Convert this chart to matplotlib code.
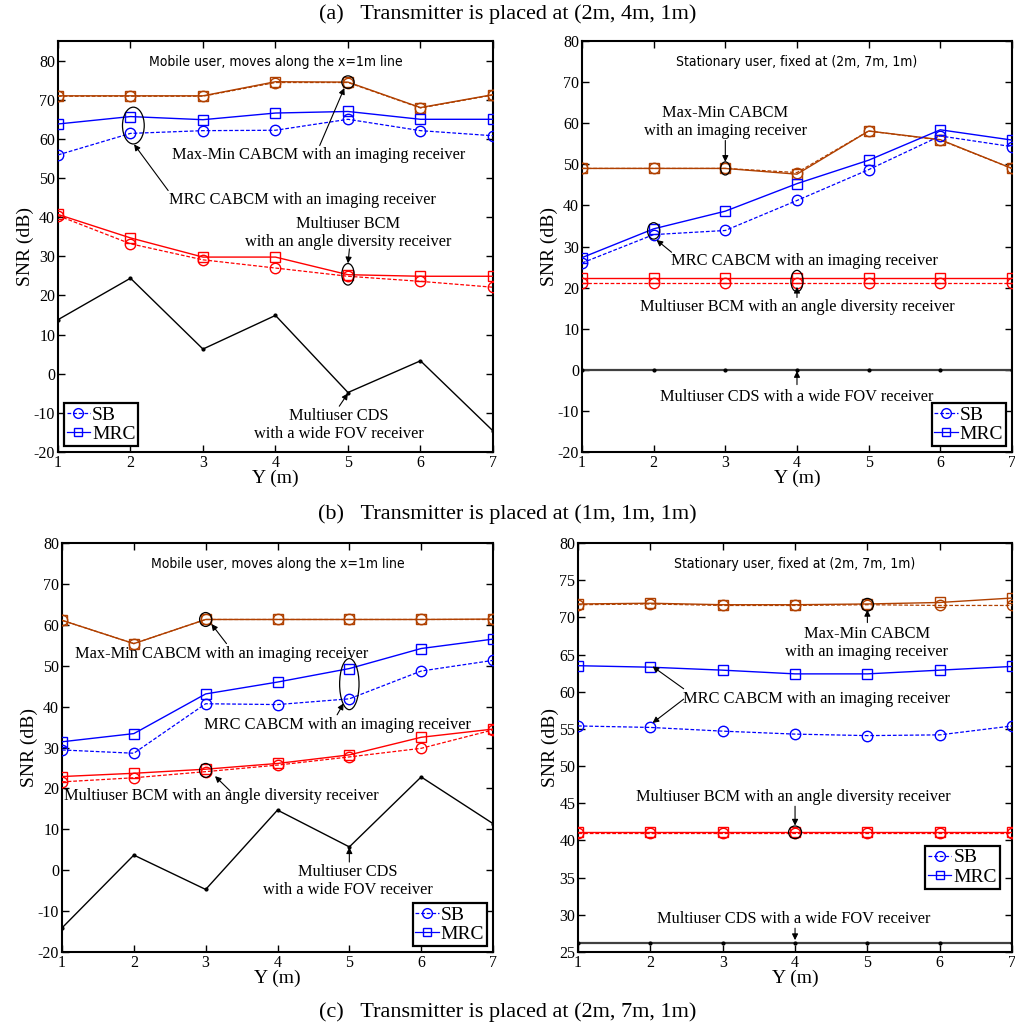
import matplotlib
matplotlib.use("Agg")
import matplotlib.pyplot as plt
from matplotlib.patches import Ellipse
from matplotlib.lines import Line2D

plt.rcParams["font.family"] = ["Liberation Serif", "DejaVu Serif"]
plt.rcParams["axes.unicode_minus"] = False

y_pos = [1, 2, 3, 4, 5, 6, 7]
x_ticks = [1, 2, 3, 4, 5, 6, 7]

# ---- (a) transmitter at (2m, 4m, 1m) ----
a_mob_maxmin_sb = [70.9, 70.9, 70.9, 74.4, 74.4, 67.9, 71.2]
a_mob_maxmin_mrc = [71.0, 71.0, 71.0, 74.6, 74.5, 68.0, 71.3]
a_mob_cabcm_sb = [55.9, 61.4, 62.1, 62.2, 65.0, 62.1, 60.8]
a_mob_cabcm_mrc = [63.8, 65.7, 64.9, 66.6, 67.0, 65.0, 65.0]
a_mob_bcm_sb = [40.4, 33.2, 29.1, 27.0, 24.9, 23.6, 22.1]
a_mob_bcm_mrc = [40.7, 34.7, 29.8, 29.8, 25.3, 24.9, 24.9]
a_mob_cds = [13.8, 24.4, 6.3, 14.9, -4.8, 3.3, -14.6]

a_sta_maxmin_sb = [49.0, 49.0, 49.0, 48.0, 58.1, 55.9, 49.0]
a_sta_maxmin_mrc = [49.0, 49.0, 49.0, 47.6, 58.1, 56.0, 49.0]
a_sta_cabcm_sb = [26.0, 32.9, 33.9, 41.2, 48.7, 56.9, 54.3]
a_sta_cabcm_mrc = [27.3, 34.3, 38.6, 45.3, 51.0, 58.4, 55.9]
a_sta_bcm_sb = [21.1, 21.1, 21.1, 21.1, 21.1, 21.1, 21.1]
a_sta_bcm_mrc = [22.3, 22.3, 22.3, 22.3, 22.3, 22.3, 22.3]
a_sta_cds = [0.0, 0.0, 0.0, 0.0, 0.0, 0.0, 0.0]

# ---- (b) transmitter at (1m, 1m, 1m) ----
b_mob_maxmin_sb = [61.1, 55.4, 61.3, 61.3, 61.3, 61.3, 61.3]
b_mob_maxmin_mrc = [61.1, 55.4, 61.3, 61.3, 61.3, 61.3, 61.4]
b_mob_cabcm_sb = [29.4, 28.6, 40.7, 40.5, 41.9, 48.7, 51.3]
b_mob_cabcm_mrc = [31.4, 33.4, 43.1, 46.0, 49.3, 54.2, 56.5]
b_mob_bcm_sb = [21.6, 22.6, 24.1, 25.7, 27.7, 29.8, 34.3]
b_mob_bcm_mrc = [22.9, 23.7, 24.7, 26.1, 28.2, 32.5, 34.5]
b_mob_cds = [-14.1, 3.7, -4.7, 14.7, 5.7, 22.8, 11.4]

b_sta_maxmin_sb = [71.7, 71.8, 71.6, 71.6, 71.7, 71.6, 71.6]
b_sta_maxmin_mrc = [71.8, 71.9, 71.7, 71.7, 71.8, 72.0, 72.6]
b_sta_cabcm_sb = [55.4, 55.2, 54.7, 54.3, 54.1, 54.2, 55.4]
b_sta_cabcm_mrc = [63.5, 63.3, 62.9, 62.4, 62.4, 62.9, 63.4]
b_sta_bcm_sb = [41.0, 41.0, 41.0, 41.0, 41.0, 41.0, 41.0]
b_sta_bcm_mrc = [41.2, 41.2, 41.2, 41.2, 41.2, 41.2, 41.2]
b_sta_cds = [26.25, 26.25, 26.25, 26.25, 26.25, 26.25, 26.25]

BROWN = "#b04000"
BLUE = "#0000ff"
RED = "#ff0000"

TICK_FS = 11.5
LAB_FS = 14
ANN_FS = 11.8
LEG_FS = 14
TITLE_FS = 16
INNER_FS = 10


def pair(ax, sb, mrc, color):
    ax.plot(y_pos, sb, color=color, ls=(0, (3, 1.5)), lw=0.9, marker="o",
            ms=7.5, mfc="none", mec=color, mew=1.0, zorder=3)
    ax.plot(y_pos, mrc, color=color, ls="-", lw=1.0, marker="s",
            ms=6.5, mfc="none", mec=color, mew=1.0, zorder=3)


def cds(ax, vals, lw=1.0, color="black"):
    ax.plot(y_pos, vals, color=color, lw=lw, marker=".", ms=4,
            mfc="black", mec="black", zorder=3)


def style(ax, ylim, yticks, inner):
    ax.set_xlim(1, 7)
    ax.set_ylim(*ylim)
    ax.set_xticks(x_ticks)
    ax.set_yticks(yticks)
    ax.tick_params(direction="in", length=5, width=1.0, top=True, right=True,
                   labelsize=TICK_FS, pad=2)
    for s in ax.spines.values():
        s.set_linewidth(1.5)
    ax.set_xlabel("Y (m)", fontsize=LAB_FS, labelpad=-1)
    ax.set_ylabel("SNR (dB)", fontsize=LAB_FS, labelpad=0)
    ax.text(0.5, 0.965, inner, transform=ax.transAxes, ha="center", va="top",
            fontsize=INNER_FS, family="DejaVu Sans", fontstretch="condensed")


def legend(ax, **kw):
    handles = [
        Line2D([], [], color=BLUE, ls=(0, (3, 1.5)), lw=0.9, marker="o", ms=7,
               mfc="none", mec=BLUE),
        Line2D([], [], color=BLUE, ls="-", lw=0.9, marker="s", ms=6,
               mfc="none", mec=BLUE),
    ]
    lg = ax.legend(handles, ["SB", "MRC"], fontsize=LEG_FS, fancybox=False,
                   framealpha=1, edgecolor="black", handlelength=1.2,
                   handletextpad=0.1, borderpad=0.15, labelspacing=0.1,
                   borderaxespad=0.3, **kw)
    lg.get_frame().set_linewidth(1.6)


def arrow(ax, tail, head):
    ax.annotate("", xy=head, xytext=tail,
                arrowprops=dict(arrowstyle="-|>", color="black", lw=0.8,
                                mutation_scale=9, shrinkA=0, shrinkB=0),
                zorder=5)


def ring(ax, xy, w, h):
    ax.add_patch(Ellipse(xy, w, h, fill=False, ec="black", lw=0.9, zorder=4))


def note(ax, xy, s):
    ax.text(xy[0], xy[1], s, ha="center", va="center", fontsize=ANN_FS,
            linespacing=1.15, zorder=5)


fig = plt.figure(figsize=(10.15, 10.28), dpi=100)
ax1 = fig.add_axes([0.0571, 0.5603, 0.4286, 0.3998])
ax2 = fig.add_axes([0.5734, 0.5603, 0.4236, 0.3998])
ax3 = fig.add_axes([0.0611, 0.0739, 0.4246, 0.3979])
ax4 = fig.add_axes([0.5695, 0.0739, 0.4276, 0.3979])

# (a) mobile user
pair(ax1, a_mob_maxmin_sb, a_mob_maxmin_mrc, BROWN)
pair(ax1, a_mob_cabcm_sb, a_mob_cabcm_mrc, BLUE)
pair(ax1, a_mob_bcm_sb, a_mob_bcm_mrc, RED)
cds(ax1, a_mob_cds)
style(ax1, (-20, 85), range(-20, 81, 10), "Mobile user, moves along the x=1m line")
ring(ax1, (2.04, 63.4), 0.3, 9.4)
ring(ax1, (5, a_mob_maxmin_mrc[4]), 0.17, 3.2)
ring(ax1, (5, 25.4), 0.17, 5.5)
note(ax1, (4.59, 55.9), "Max-Min CABCM with an imaging receiver")
arrow(ax1, (4.61, 58.3), (4.95, 73.0))
note(ax1, (4.37, 44.5), "MRC CABCM with an imaging receiver")
arrow(ax1, (2.52, 46.8), (2.05, 58.6))
note(ax1, (5.0, 36.0), "Multiuser BCM\nwith an angle diversity receiver")
arrow(ax1, (5.02, 31.9), (5.0, 28.2))
note(ax1, (4.87, -13.2), "Multiuser CDS\nwith a wide FOV receiver")
arrow(ax1, (4.88, -8.3), (5.0, -5.0))
legend(ax1, loc="lower left")

# (a) stationary user
pair(ax2, a_sta_maxmin_sb, a_sta_maxmin_mrc, BROWN)
pair(ax2, a_sta_cabcm_sb, a_sta_cabcm_mrc, BLUE)
pair(ax2, a_sta_bcm_sb, a_sta_bcm_mrc, RED)
cds(ax2, a_sta_cds, lw=1.6, color="#404040")
style(ax2, (-20, 80), range(-20, 81, 10), "Stationary user, fixed at (2m, 7m, 1m)")
ring(ax2, (3, 49.0), 0.13, 3.2)
ring(ax2, (2, 33.8), 0.17, 4.0)
ring(ax2, (4, 21.6), 0.17, 5.2)
note(ax2, (3.0, 60.3), "Max-Min CABCM\nwith an imaging receiver")
arrow(ax2, (3.0, 55.8), (3.0, 50.6))
note(ax2, (4.11, 26.5), "MRC CABCM with an imaging receiver")
arrow(ax2, (2.25, 28.6), (2.04, 31.6))
note(ax2, (4.01, 15.2), "Multiuser BCM with an angle diversity receiver")
arrow(ax2, (4.0, 17.6), (4.0, 20.2))
note(ax2, (4.0, -6.5), "Multiuser CDS with a wide FOV receiver")
arrow(ax2, (4.0, -3.6), (4.0, -0.3))
legend(ax2, loc="lower right")

# (b) mobile user
pair(ax3, b_mob_maxmin_sb, b_mob_maxmin_mrc, BROWN)
pair(ax3, b_mob_cabcm_sb, b_mob_cabcm_mrc, BLUE)
pair(ax3, b_mob_bcm_sb, b_mob_bcm_mrc, RED)
cds(ax3, b_mob_cds)
style(ax3, (-20, 80), range(-20, 81, 10), "Mobile user, moves along the x=1m line")
ring(ax3, (3, 61.3), 0.17, 3.4)
ring(ax3, (5, 45.5), 0.27, 12.5)
ring(ax3, (3, 24.4), 0.17, 3.4)
note(ax3, (3.22, 52.8), "Max-Min CABCM with an imaging receiver")
arrow(ax3, (3.29, 55.4), (3.08, 60.2))
note(ax3, (4.83, 35.5), "MRC CABCM with an imaging receiver")
arrow(ax3, (4.83, 38.0), (4.92, 40.8))
note(ax3, (3.22, 18.1), "Multiuser BCM with an angle diversity receiver")
arrow(ax3, (3.34, 19.4), (3.13, 23.0))
note(ax3, (4.98, -2.6), "Multiuser CDS\nwith a wide FOV receiver")
arrow(ax3, (5.0, 2.0), (5.0, 5.6))
legend(ax3, loc="lower right")

# (b) stationary user
pair(ax4, b_sta_maxmin_sb, b_sta_maxmin_mrc, BROWN)
pair(ax4, b_sta_cabcm_sb, b_sta_cabcm_mrc, BLUE)
pair(ax4, b_sta_bcm_sb, b_sta_bcm_mrc, RED)
cds(ax4, b_sta_cds, lw=1.6, color="#404040")
style(ax4, (25, 80), range(25, 81, 5), "Stationary user, fixed at (2m, 7m, 1m)")
ring(ax4, (5, 71.7), 0.17, 1.7)
ring(ax4, (4, 41.1), 0.18, 1.7)
note(ax4, (4.99, 66.5), "Max-Min CABCM\nwith an imaging receiver")
arrow(ax4, (5.0, 69.3), (5.0, 71.0))
note(ax4, (4.30, 59.0), "MRC CABCM with an imaging receiver")
arrow(ax4, (2.46, 60.4), (2.03, 63.4))
arrow(ax4, (2.46, 59.0), (2.03, 55.8))
note(ax4, (3.98, 45.9), "Multiuser BCM with an angle diversity receiver")
arrow(ax4, (4.0, 44.6), (4.0, 42.0))
note(ax4, (3.98, 29.5), "Multiuser CDS with a wide FOV receiver")
arrow(ax4, (4.0, 28.2), (4.0, 26.6))
legend(ax4, loc="lower right", bbox_to_anchor=(0.985, 0.14))

fig.text(0.5, 0.986, "(a)   Transmitter is placed at (2m, 4m, 1m)",
         ha="center", va="center", fontsize=TITLE_FS)
fig.text(0.5, 0.500, "(b)   Transmitter is placed at (1m, 1m, 1m)",
         ha="center", va="center", fontsize=TITLE_FS)
fig.text(0.5, 0.0156, "(c)   Transmitter is placed at (2m, 7m, 1m)",
         ha="center", va="center", fontsize=TITLE_FS)

fig.savefig("out.png", dpi=100, facecolor="white")
